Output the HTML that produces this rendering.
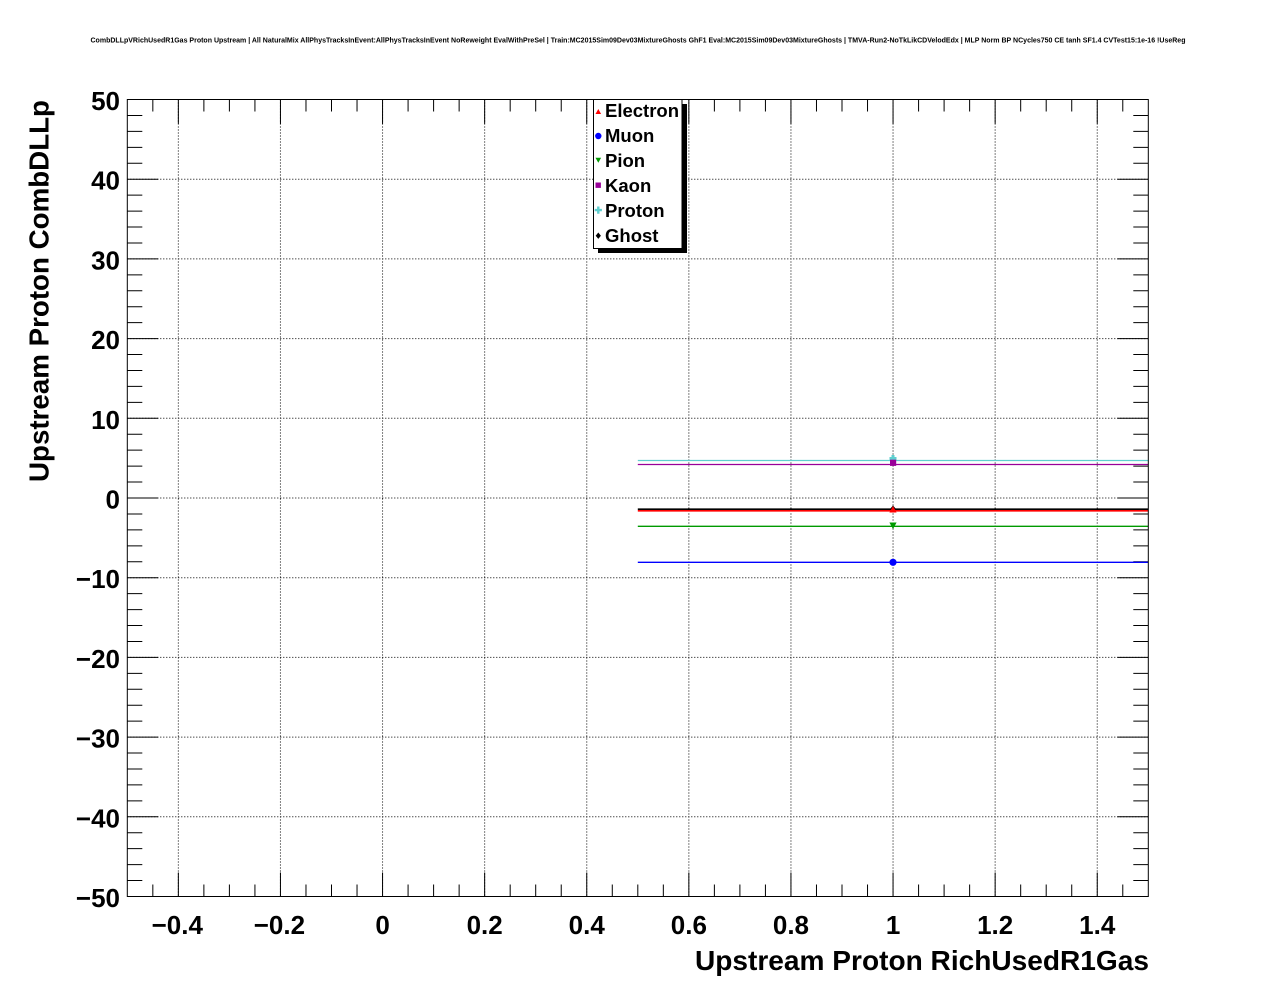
<!DOCTYPE html>
<html>
<head>
<meta charset="utf-8">
<style>
html,body{margin:0;padding:0;background:#fff;}
svg{display:block;}
text{font-family:"Liberation Sans",Arial,sans-serif;font-weight:bold;fill:#000;}
</style>
</head>
<body>
<svg width="1276" height="996" viewBox="0 0 1276 996" xmlns="http://www.w3.org/2000/svg">
<rect x="0" y="0" width="1276" height="996" fill="#fff"/>

<!-- top title -->
<text x="638" y="42.5" font-size="7" text-anchor="middle" textLength="1095" lengthAdjust="spacingAndGlyphs">CombDLLpVRichUsedR1Gas Proton Upstream | All NaturalMix AllPhysTracksInEvent:AllPhysTracksInEvent NoReweight EvalWithPreSel | Train:MC2015Sim09Dev03MixtureGhosts GhF1 Eval:MC2015Sim09Dev03MixtureGhosts | TMVA-Run2-NoTkLikCDVelodEdx | MLP Norm BP NCycles750 CE tanh SF1.4 CVTest15:1e-16 !UseReg</text>

<!-- grid -->
<g stroke="#000" stroke-width="1" stroke-dasharray="1 2" fill="none">
<path d="M178.35 99.5V896.5M280.45 99.5V896.5M382.55 99.5V896.5M484.65 99.5V896.5M586.75 99.5V896.5M688.85 99.5V896.5M790.95 99.5V896.5M893.05 99.5V896.5M995.15 99.5V896.5M1097.25 99.5V896.5"/>
<path d="M127.3 179.2H1148.3M127.3 258.9H1148.3M127.3 338.6H1148.3M127.3 418.3H1148.3M127.3 498H1148.3M127.3 577.7H1148.3M127.3 657.4H1148.3M127.3 737.1H1148.3M127.3 816.8H1148.3"/>
</g>

<!-- ticks -->
<g stroke="#000" stroke-width="1" fill="none">
<!-- bottom minor -->
<path d="M152.83 896.5v-12M203.88 896.5v-12M229.4 896.5v-12M254.93 896.5v-12M305.98 896.5v-12M331.5 896.5v-12M357.03 896.5v-12M408.08 896.5v-12M433.6 896.5v-12M459.13 896.5v-12M510.18 896.5v-12M535.7 896.5v-12M561.23 896.5v-12M612.28 896.5v-12M637.8 896.5v-12M663.33 896.5v-12M714.38 896.5v-12M739.9 896.5v-12M765.43 896.5v-12M816.48 896.5v-12M842 896.5v-12M867.53 896.5v-12M918.58 896.5v-12M944.1 896.5v-12M969.63 896.5v-12M1020.68 896.5v-12M1046.2 896.5v-12M1071.73 896.5v-12M1122.78 896.5v-12"/>
<!-- bottom major -->
<path d="M178.35 896.5v-24M280.45 896.5v-24M382.55 896.5v-24M484.65 896.5v-24M586.75 896.5v-24M688.85 896.5v-24M790.95 896.5v-24M893.05 896.5v-24M995.15 896.5v-24M1097.25 896.5v-24"/>
<!-- top minor -->
<path d="M152.83 99.5v12M203.88 99.5v12M229.4 99.5v12M254.93 99.5v12M305.98 99.5v12M331.5 99.5v12M357.03 99.5v12M408.08 99.5v12M433.6 99.5v12M459.13 99.5v12M510.18 99.5v12M535.7 99.5v12M561.23 99.5v12M612.28 99.5v12M637.8 99.5v12M663.33 99.5v12M714.38 99.5v12M739.9 99.5v12M765.43 99.5v12M816.48 99.5v12M842 99.5v12M867.53 99.5v12M918.58 99.5v12M944.1 99.5v12M969.63 99.5v12M1020.68 99.5v12M1046.2 99.5v12M1071.73 99.5v12M1122.78 99.5v12"/>
<!-- top major -->
<path d="M178.35 99.5v24M280.45 99.5v24M382.55 99.5v24M484.65 99.5v24M586.75 99.5v24M688.85 99.5v24M790.95 99.5v24M893.05 99.5v24M995.15 99.5v24M1097.25 99.5v24"/>
<!-- left minor -->
<path d="M127.3 115.44h15M127.3 131.38h15M127.3 147.32h15M127.3 163.26h15M127.3 195.14h15M127.3 211.08h15M127.3 227.02h15M127.3 242.96h15M127.3 274.84h15M127.3 290.78h15M127.3 306.72h15M127.3 322.66h15M127.3 354.54h15M127.3 370.48h15M127.3 386.42h15M127.3 402.36h15M127.3 434.24h15M127.3 450.18h15M127.3 466.12h15M127.3 482.06h15M127.3 513.94h15M127.3 529.88h15M127.3 545.82h15M127.3 561.76h15M127.3 593.64h15M127.3 609.58h15M127.3 625.52h15M127.3 641.46h15M127.3 673.34h15M127.3 689.28h15M127.3 705.22h15M127.3 721.16h15M127.3 753.04h15M127.3 768.98h15M127.3 784.92h15M127.3 800.86h15M127.3 832.74h15M127.3 848.68h15M127.3 864.62h15M127.3 880.56h15"/>
<!-- left major -->
<path d="M127.3 179.2h31M127.3 258.9h31M127.3 338.6h31M127.3 418.3h31M127.3 498h31M127.3 577.7h31M127.3 657.4h31M127.3 737.1h31M127.3 816.8h31"/>
<!-- right minor -->
<path d="M1148.3 115.44h-15M1148.3 131.38h-15M1148.3 147.32h-15M1148.3 163.26h-15M1148.3 195.14h-15M1148.3 211.08h-15M1148.3 227.02h-15M1148.3 242.96h-15M1148.3 274.84h-15M1148.3 290.78h-15M1148.3 306.72h-15M1148.3 322.66h-15M1148.3 354.54h-15M1148.3 370.48h-15M1148.3 386.42h-15M1148.3 402.36h-15M1148.3 434.24h-15M1148.3 450.18h-15M1148.3 466.12h-15M1148.3 482.06h-15M1148.3 513.94h-15M1148.3 529.88h-15M1148.3 545.82h-15M1148.3 561.76h-15M1148.3 593.64h-15M1148.3 609.58h-15M1148.3 625.52h-15M1148.3 641.46h-15M1148.3 673.34h-15M1148.3 689.28h-15M1148.3 705.22h-15M1148.3 721.16h-15M1148.3 753.04h-15M1148.3 768.98h-15M1148.3 784.92h-15M1148.3 800.86h-15M1148.3 832.74h-15M1148.3 848.68h-15M1148.3 864.62h-15M1148.3 880.56h-15"/>
<!-- right major -->
<path d="M1148.3 179.2h-31M1148.3 258.9h-31M1148.3 338.6h-31M1148.3 418.3h-31M1148.3 498h-31M1148.3 577.7h-31M1148.3 657.4h-31M1148.3 737.1h-31M1148.3 816.8h-31"/>
</g>

<!-- data lines -->
<g fill="none">
<line x1="637.8" y1="460.5" x2="1148.3" y2="460.5" stroke="#5fcfcf" stroke-width="1.3"/>
<line x1="637.8" y1="464.5" x2="1148.3" y2="464.5" stroke="#990099" stroke-width="1.3"/>
<line x1="637.8" y1="509.2" x2="1148.3" y2="509.2" stroke="#000" stroke-width="1.6"/>
<line x1="637.8" y1="510.8" x2="1148.3" y2="510.8" stroke="#ff0000" stroke-width="1.6"/>
<line x1="637.8" y1="526.3" x2="1148.3" y2="526.3" stroke="#009a00" stroke-width="1.3"/>
<line x1="637.8" y1="562.3" x2="1148.3" y2="562.3" stroke="#0000ff" stroke-width="1.3"/>
</g>

<!-- markers -->
<path d="M891.5 455h3v2h2v3h-2v2h-3v-2h-2v-3h2z" fill="#5fcfcf"/>
<rect x="890" y="459.7" width="6.2" height="6.2" fill="#990099"/>
<path d="M893 505.5l3 3.5l-3 3.5l-3-3.5z" fill="#000"/>
<path d="M893 506l3.6 6.5h-7.2z" fill="#ff0000"/>
<path d="M889.4 522.5h7.2l-3.6 6.5z" fill="#009a00"/>
<circle cx="893" cy="562.3" r="3.6" fill="#0000ff"/>

<!-- frame -->
<rect x="127.3" y="99.5" width="1021" height="797" fill="none" stroke="#000" stroke-width="1"/>

<!-- legend -->
<rect x="598" y="104" width="89" height="149" fill="#000"/>
<rect x="593.5" y="99.5" width="88.5" height="149" fill="#fff" stroke="#000" stroke-width="1"/>
<path d="M598.3 109l2.8 5h-5.6z" fill="#ff0000"/>
<circle cx="598.3" cy="136" r="3.2" fill="#0000ff"/>
<path d="M595.5 157.7h5.6l-2.8 5z" fill="#009a00"/>
<rect x="595.5" y="182.5" width="5.4" height="5.4" fill="#990099"/>
<path d="M597.1 206.5h2.4v2.4h2.4v2.4h-2.4v2.4h-2.4v-2.4h-2.4v-2.4h2.4z" fill="#5fcfcf"/>
<path d="M598.3 232.5l2.6 3.2l-2.6 3.2l-2.6-3.2z" fill="#000"/>
<g font-size="18.5">
<text x="605" y="117">Electron</text>
<text x="605" y="142">Muon</text>
<text x="605" y="167">Pion</text>
<text x="605" y="192">Kaon</text>
<text x="605" y="217">Proton</text>
<text x="605" y="242">Ghost</text>
</g>

<!-- y tick labels -->
<g font-size="26" text-anchor="end">
<text x="120" y="110">50</text>
<text x="120" y="189.7">40</text>
<text x="120" y="269.4">30</text>
<text x="120" y="349.1">20</text>
<text x="120" y="428.8">10</text>
<text x="120" y="508.5">0</text>
<text x="120" y="588.2">−10</text>
<text x="120" y="667.9">−20</text>
<text x="120" y="747.6">−30</text>
<text x="120" y="827.3">−40</text>
<text x="120" y="907">−50</text>
</g>

<!-- x tick labels -->
<g font-size="26" text-anchor="middle">
<text x="177.3" y="934">−0.4</text>
<text x="279.4" y="934">−0.2</text>
<text x="382.55" y="934">0</text>
<text x="484.65" y="934">0.2</text>
<text x="586.75" y="934">0.4</text>
<text x="688.85" y="934">0.6</text>
<text x="790.95" y="934">0.8</text>
<text x="893.05" y="934">1</text>
<text x="995.15" y="934">1.2</text>
<text x="1097.25" y="934">1.4</text>
</g>

<!-- axis titles -->
<text x="695" y="970" font-size="28" textLength="454" lengthAdjust="spacingAndGlyphs">Upstream Proton RichUsedR1Gas</text>
<text x="0" y="0" font-size="28" text-anchor="end" transform="translate(48.3,100) rotate(-90)" textLength="382" lengthAdjust="spacingAndGlyphs">Upstream Proton CombDLLp</text>
</svg>
</body>
</html>
